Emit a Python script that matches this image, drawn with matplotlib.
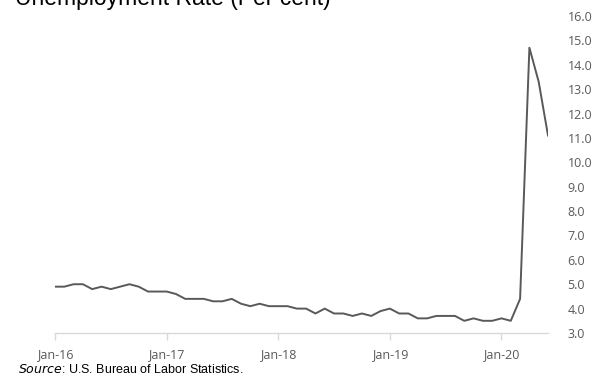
import matplotlib.pyplot as plt

# Monthly unemployment rate, Jan-2016 to Jun-2020
months = ['Jan-16', 'Feb-16', 'Mar-16', 'Apr-16', 'May-16', 'Jun-16', 'Jul-16', 'Aug-16', 'Sep-16', 'Oct-16', 'Nov-16', 'Dec-16',
          'Jan-17', 'Feb-17', 'Mar-17', 'Apr-17', 'May-17', 'Jun-17', 'Jul-17', 'Aug-17', 'Sep-17', 'Oct-17', 'Nov-17', 'Dec-17',
          'Jan-18', 'Feb-18', 'Mar-18', 'Apr-18', 'May-18', 'Jun-18', 'Jul-18', 'Aug-18', 'Sep-18', 'Oct-18', 'Nov-18', 'Dec-18',
          'Jan-19', 'Feb-19', 'Mar-19', 'Apr-19', 'May-19', 'Jun-19', 'Jul-19', 'Aug-19', 'Sep-19', 'Oct-19', 'Nov-19', 'Dec-19',
          'Jan-20', 'Feb-20', 'Mar-20', 'Apr-20', 'May-20', 'Jun-20']
rate = [4.9, 4.9, 5.0, 5.0, 4.8, 4.9, 4.8, 4.9, 5.0, 4.9, 4.7, 4.7,
        4.7, 4.6, 4.4, 4.4, 4.4, 4.3, 4.3, 4.4, 4.2, 4.1, 4.2, 4.1,
        4.1, 4.1, 4.0, 4.0, 3.8, 4.0, 3.8, 3.8, 3.7, 3.8, 3.7, 3.9,
        4.0, 3.8, 3.8, 3.6, 3.6, 3.7, 3.7, 3.7, 3.5, 3.6, 3.5, 3.5,
        3.6, 3.5, 4.4, 14.7, 13.3, 11.1]
tick_labels = ['Jan-16', 'Jan-17', 'Jan-18', 'Jan-19', 'Jan-20']
y_ticks = [3.0, 4.0, 5.0, 6.0, 7.0, 8.0, 9.0, 10.0, 11.0, 12.0, 13.0, 14.0, 15.0, 16.0]

grey = '#595959'
fig = plt.figure(figsize=(5.99, 3.77), dpi=100)
ax = fig.add_axes([55 / 599, 1 - 333 / 377, (548 - 55) / 599, (333 - 16) / 377])

x = list(range(len(rate)))
ax.plot(x, rate, color=grey, linewidth=1.4)

ax.set_xlim(0, len(rate) - 1)
ax.set_ylim(3, 16)
ax.set_xticks([months.index(t) for t in tick_labels])
ax.set_xticklabels(tick_labels, fontsize=9, color=grey, family='Open Sans')
ax.set_yticks(y_ticks)
ax.set_yticklabels([f'{v:.1f}' for v in y_ticks], fontsize=9, color=grey, family='Open Sans', ha='left')

ax.yaxis.tick_right()
ax.tick_params(axis='y', length=0, pad=14)
ax.tick_params(axis='x', length=5, color='#d9d9d9', width=1, pad=6)

for side in ['top', 'left', 'right']:
    ax.spines[side].set_visible(False)
ax.spines['bottom'].set_color('#d9d9d9')
ax.spines['bottom'].set_linewidth(1)

# title sits partly above the top edge of the figure
fig.text(15 / 599, 1 - 5 / 377, 'Unemployment Rate (Per cent)', fontsize=16.5,
         family='Liberation Sans', va='baseline', ha='left', color='black')
fig.text(18 / 599, 1 - 373 / 377, r'$\it{Source}$: U.S. Bureau of Labor Statistics.', fontsize=9,
         family='Liberation Sans', va='baseline', ha='left', color='black')

fig.savefig('out.png', dpi=100)
